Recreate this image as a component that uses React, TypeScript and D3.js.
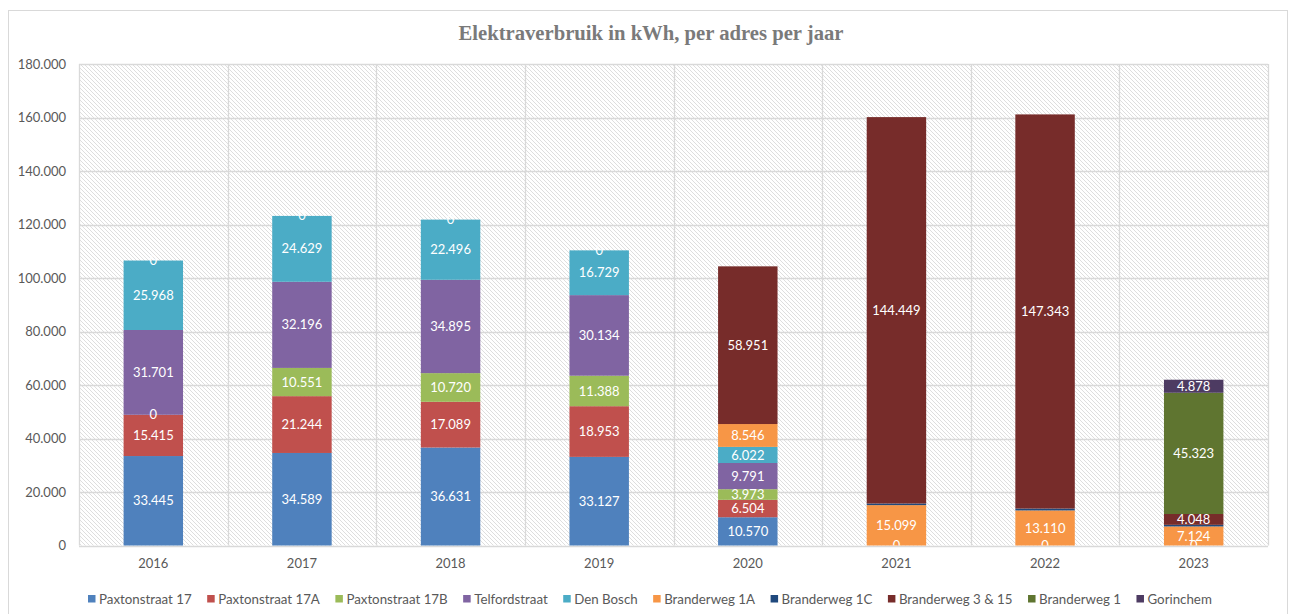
// @ts-nocheck
import React, { useEffect, useRef } from 'react'
import * as d3 from 'd3'

const years = ['2016', '2017', '2018', '2019', '2020', '2021', '2022', '2023']

const seriesNames = [
    'Paxtonstraat 17', 'Paxtonstraat 17A', 'Paxtonstraat 17B', 'Telfordstraat', 'Den Bosch',
    'Branderweg 1A', 'Branderweg 1C', 'Branderweg 3 & 15', 'Branderweg 1', 'Gorinchem'
]

const seriesColors = [
    '#4F81BD', '#C0504D', '#9BBB59', '#8064A2', '#4BACC6',
    '#F79646', '#1F497D', '#772C2A', '#5F7530', '#4D3B62'
]

// one value per year, null = no value for that year
const paxton17 = [33445, 34589, 36631, 33127, 10570, 0, 0, 0]
const paxton17A = [15415, 21244, 17089, 18953, 6504, null, null, null]
const paxton17B = [0, 10551, 10720, 11388, 3973, null, null, null]
const telford = [31701, 32196, 34895, 30134, 9791, null, null, null]
const denBosch = [25968, 24629, 22496, 16729, 6022, null, null, null]
const brander1A = [0, 0, 0, 0, 8546, 15099, 13110, 7124]
const brander1C = [null, null, null, null, null, 600, 700, 600]
const brander3en15 = [null, null, null, null, 58951, 144449, 147343, 4048]
const brander1 = [null, null, null, null, null, null, null, 45323]
const gorinchem = [null, null, null, null, null, null, null, 4878]

const seriesValues = [paxton17, paxton17A, paxton17B, telford, denBosch, brander1A, brander1C, brander3en15, brander1, gorinchem]

const yTicks = [0, 20000, 40000, 60000, 80000, 100000, 120000, 140000, 160000, 180000]

const nl = d3.formatLocale({ decimal: ',', thousands: '.', grouping: [3], currency: ['€', ''] })
const fmt = nl.format(',d')

const FONT = 'Lato, Carlito, Calibri, sans-serif'

export default function App() {
    const ref = useRef(null)

    useEffect(() => {
        const width = 1290, height = 614
        const left = 79, right = 1268, top = 64, bottom = 545.5

        const svg = d3.select(ref.current)
        svg.selectAll('*').remove()

        // hatch pattern for the plot area
        const defs = svg.append('defs')
        const pat = defs.append('pattern')
            .attr('id', 'hatch')
            .attr('patternUnits', 'userSpaceOnUse')
            .attr('width', 4).attr('height', 4)
        pat.append('rect').attr('width', 4).attr('height', 4).attr('fill', '#ffffff')
        pat.append('path')
            .attr('d', 'M-1,-1 L5,5 M-1,3 L1,5 M3,-1 L5,1')
            .attr('stroke', '#dedede')
            .attr('stroke-width', 1)
        defs.append('clipPath').attr('id', 'plotClip')
            .append('rect')
            .attr('x', left).attr('y', top)
            .attr('width', right - left).attr('height', bottom - top)

        // chart border
        svg.append('rect')
            .attr('x', 8.5).attr('y', 10.5)
            .attr('width', 1279).attr('height', 620)
            .attr('fill', '#ffffff')
            .attr('stroke', '#d9d9d9')

        // title
        svg.append('text')
            .attr('x', 651).attr('y', 40)
            .attr('text-anchor', 'middle')
            .attr('font-family', '"Liberation Serif", serif')
            .attr('font-weight', 'bold')
            .attr('font-size', 20)
            .attr('fill', '#7a7a7a')
            .attr('textLength', 385)
            .attr('lengthAdjust', 'spacingAndGlyphs')
            .text('Elektraverbruik in kWh, per adres per jaar')

        const x = d3.scaleBand(years, [left, right]).padding(0)
        const y = d3.scaleLinear([0, 180000], [bottom, top])

        svg.append('rect')
            .attr('x', left).attr('y', top)
            .attr('width', right - left).attr('height', bottom - top)
            .attr('fill', 'url(#hatch)')

        // horizontal gridlines
        svg.append('g')
            .selectAll('line')
            .data(yTicks)
            .join('line')
            .attr('x1', left).attr('x2', right)
            .attr('y1', d => Math.round(y(d)) + 0.5)
            .attr('y2', d => Math.round(y(d)) + 0.5)
            .attr('stroke', '#d9d9d9')
            .attr('stroke-width', 1.3)

        // vertical gridlines at category borders
        const borders = years.map(d => x(d)).concat([right])
        svg.append('g')
            .selectAll('line')
            .data(borders)
            .join('line')
            .attr('x1', d => Math.round(d) + 0.5).attr('x2', d => Math.round(d) + 0.5)
            .attr('y1', top).attr('y2', bottom)
            .attr('stroke', '#d9d9d9')
            .attr('stroke-width', 1.3)

        // y labels
        svg.append('g')
            .selectAll('text')
            .data(yTicks)
            .join('text')
            .attr('x', 66).attr('y', d => y(d))
            .attr('dy', '0.35em')
            .attr('text-anchor', 'end')
            .attr('font-family', FONT)
            .attr('font-size', 13)
            .attr('fill', '#595959')
            .text(d => fmt(d))

        // x labels
        svg.append('g')
            .selectAll('text')
            .data(years)
            .join('text')
            .attr('x', d => x(d) + x.bandwidth() / 2).attr('y', 568)
            .attr('text-anchor', 'middle')
            .attr('font-family', FONT)
            .attr('font-size', 13)
            .attr('fill', '#595959')
            .text(d => d)

        // stacked data
        const table = years.map((yr, i) => {
            const row = { year: yr }
            seriesNames.forEach((s, j) => { row[s] = seriesValues[j][i] })
            return row
        })
        const stack = d3.stack()
            .keys(seriesNames)
            .value((d, key) => d[key] ?? 0)(table)

        const barW = x.bandwidth() * 0.4
        const color = d3.scaleOrdinal(seriesNames, seriesColors)

        const groups = svg.append('g')
            .selectAll('g')
            .data(stack)
            .join('g')
            .attr('fill', d => color(d.key))

        groups.selectAll('rect')
            .data(d => d)
            .join('rect')
            .attr('x', d => x(d.data.year) + (x.bandwidth() - barW) / 2)
            .attr('y', d => y(d[1]))
            .attr('width', barW)
            .attr('height', d => y(d[0]) - y(d[1]))

        // data labels (also for zeros), clipped to plot area
        const labels = []
        stack.forEach(s => {
            s.forEach(d => {
                const v = d.data[s.key]
                if (v === null || v === undefined) return
                if (s.key === 'Branderweg 1C') return
                labels.push({ year: d.data.year, v, mid: (d[0] + d[1]) / 2 })
            })
        })
        svg.append('g')
            .attr('clip-path', 'url(#plotClip)')
            .selectAll('text')
            .data(labels)
            .join('text')
            .attr('x', d => x(d.year) + x.bandwidth() / 2)
            .attr('y', d => y(d.mid))
            .attr('dy', '0.35em')
            .attr('text-anchor', 'middle')
            .attr('font-family', FONT)
            .attr('font-size', 13)
            .attr('fill', '#ffffff')
            .text(d => fmt(d.v))

        // legend
        const legend = svg.append('g')
        let lx = 88
        seriesNames.forEach((s, i) => {
            legend.append('rect')
                .attr('x', lx).attr('y', 595)
                .attr('width', 7.5).attr('height', 7.5)
                .attr('fill', seriesColors[i])
            const t = legend.append('text')
                .attr('x', lx + 11).attr('y', 599)
                .attr('dy', '0.35em')
                .attr('font-family', FONT)
                .attr('font-size', 13.3)
                .attr('fill', '#595959')
                .text(s)
            lx += 11 + t.node().getComputedTextLength() + 15.5
        })

        svg.attr('width', width).attr('height', height)
    }, [])

    return <svg ref={ref} width={1290} height={614}
        style={{ position: 'absolute', left: 0, top: 0, background: '#ffffff' }} />
}
